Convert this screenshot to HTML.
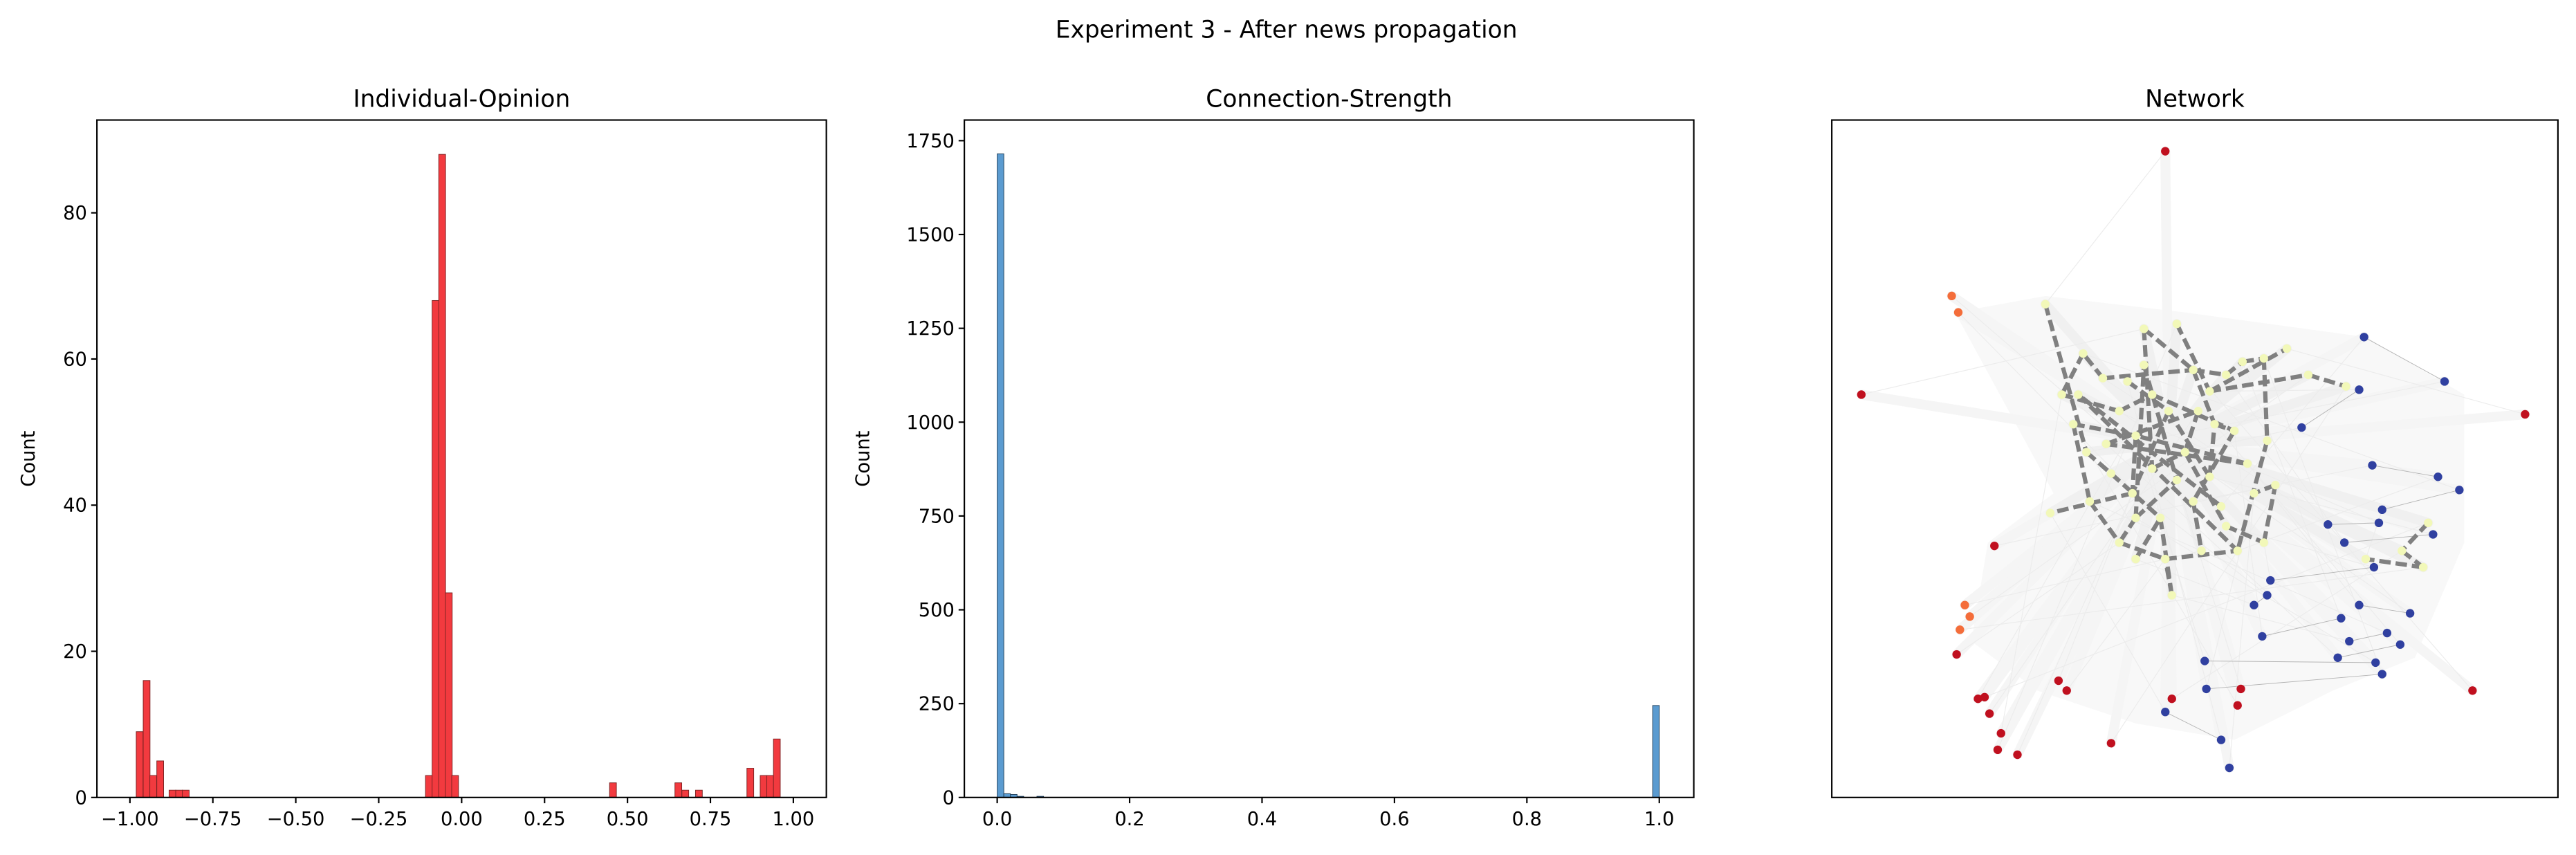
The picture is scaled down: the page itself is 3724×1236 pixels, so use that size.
<!DOCTYPE html>
<html><head><meta charset="utf-8"><style>
html,body{margin:0;padding:0;background:#fff;}
svg{display:block;font-family:"DejaVu Sans","Liberation Sans",sans-serif;}
</style></head><body>
<svg id="fig" width="3724" height="1236" viewBox="0 0 1568 520" preserveAspectRatio="none" xmlns="http://www.w3.org/2000/svg">
<rect width="1568" height="520" fill="#fff"/>
<text x="783" y="23" font-size="14.5" text-anchor="middle">Experiment 3 - After news propagation</text>
<text x="281" y="65" font-size="14.5" text-anchor="middle">Individual-Opinion</text>
<text x="809" y="65" font-size="14.5" text-anchor="middle">Connection-Strength</text>
<text x="1336" y="65" font-size="14.5" text-anchor="middle">Network</text>
<g id="p1"></g>
<g id="p2"></g>
<g id="p3"></g>
</svg>
<script>
// Panel 1 data
const opinionBinLefts = [-0.981,-0.960,-0.940,-0.919,-0.882,-0.862,-0.842,-0.109,-0.089,-0.069,-0.049,-0.030,0.446,0.643,0.664,0.705,0.860,0.900,0.920,0.940];
const opinionCounts   = [9,16,3,5,1,1,1,3,68,88,28,3,2,2,1,1,4,3,3,8];
const opinionBinWidth = 0.0205;
const opinionXTicks = [-1.00,-0.75,-0.50,-0.25,0.00,0.25,0.50,0.75,1.00];
const opinionXTickLabels = ["−1.00","−0.75","−0.50","−0.25","0.00","0.25","0.50","0.75","1.00"];
const opinionYTicks = [0,20,40,60,80];
// Panel 2 data
const strengthBinLefts = [0.00,0.01,0.02,0.03,0.06,0.99];
const strengthCounts   = [1715,10,8,3,3,245];
const strengthBinWidth = 0.01;
const strengthXTicks = [0.0,0.2,0.4,0.6,0.8,1.0];
const strengthXTickLabels = ["0.0","0.2","0.4","0.6","0.8","1.0"];
const strengthYTicks = [0,250,500,750,1000,1250,1500,1750];
// Panel 3 network nodes (layout positions)
const redNodes = [[1318,92],[1133,240],[1537,252],[1214,332],[1191,398],[1204,425],[1208,424],[1211,434],[1218,446],[1216,456],[1228,459],[1253,414],[1258,420],[1285,452],[1322,425],[1364,419],[1362,429],[1505,420]];
const orangeNodes = [[1188,180],[1192,190],[1196,368],[1199,375],[1193,383]];
const blueNodes = [[1439,205],[1488,232],[1436,237],[1401,260],[1444,283],[1484,290],[1497,298],[1450,310],[1448,318],[1417,319],[1427,330],[1481,325],[1445,345],[1382,353],[1380,362],[1372,368],[1436,368],[1467,373],[1425,376],[1377,387],[1453,385],[1430,390],[1461,392],[1423,400],[1446,403],[1342,402],[1450,410],[1343,419],[1318,433],[1352,450],[1357,467]];
const yellowNodes = [[1245,185],[1255,240],[1262,258],[1270,275],[1280,230],[1290,250],[1300,265],[1305,200],[1325,197],[1335,225],[1345,238],[1355,228],[1365,220],[1378,218],[1392,212],[1320,250],[1310,285],[1330,275],[1345,290],[1360,262],[1380,268],[1385,295],[1298,300],[1315,315],[1335,305],[1355,320],[1272,305],[1248,312],[1290,330],[1318,340],[1340,335],[1362,335],[1378,330],[1322,362],[1295,232],[1310,240],[1428,235],[1405,228],[1268,215],[1285,288],[1348,258],[1372,300],[1478,318],[1462,335],[1475,345],[1440,340],[1300,340],[1282,270],[1305,222],[1338,250],[1325,292],[1352,308],[1265,240],[1368,282],[1300,315]];
const strongEdges = [[0,3],[1,5],[2,6],[4,9],[7,16],[8,10],[9,11],[10,14],[10,37],[37,36],[11,12],[12,13],[15,18],[15,22],[17,25],[19,24],[20,31],[21,41],[22,27],[23,33],[24,30],[26,28],[28,29],[3,39],[39,23],[16,17],[5,35],[34,15],[38,1],[18,40],[40,19],[42,43],[43,44],[44,45],[6,22],[29,31],[2,26],[9,40],[13,20],[32,21],[33,29],[46,23],[25,32],[7,9],[4,38],[35,19],[47,49],[48,50],[51,52],[53,47],[54,48],[54,50],[49,17],[52,31],[54,28],[53,6]];

const NS='http://www.w3.org/2000/svg';
function mk(parent,tag,attrs){const e=document.createElementNS(NS,tag);for(const k in attrs)e.setAttribute(k,attrs[k]);parent.appendChild(e);return e;}

function histogram(g,cfg){
  const {L,R,T,B,xmin,xmax,ymax,lefts,counts,bw,xt,xtl,yt,fill,stroke,labelX,countX,prefix}=cfg;
  const sx=v=>L+(v-xmin)/(xmax-xmin)*(R-L);
  const sy=v=>B-v/ymax*(B-T);
  for(let i=0;i<lefts.length;i++){
    const r=mk(g,'rect',{x:sx(lefts[i]),y:sy(counts[i]),width:Math.max(sx(lefts[i]+bw)-sx(lefts[i]),0.5),height:B-sy(counts[i]),fill:fill,stroke:stroke,'stroke-width':0.4});
    
    
  }
  mk(g,'rect',{x:L,y:T,width:R-L,height:B-T,fill:'none',stroke:'#000','stroke-width':0.9});
  xt.forEach((v,i)=>{
    mk(g,'line',{x1:sx(v),x2:sx(v),y1:B,y2:B+3.5,stroke:'#000','stroke-width':0.9});
    const t=mk(g,'text',{x:sx(v),y:B+17,'font-size':11.5,'text-anchor':'middle'});
    t.textContent=xtl[i];
    
    
  });
  yt.forEach(v=>{
    mk(g,'line',{x1:L-3.5,x2:L,y1:sy(v),y2:sy(v),stroke:'#000','stroke-width':0.9});
    const t=mk(g,'text',{x:labelX,y:sy(v)+4,'font-size':11.5,'text-anchor':'end'});
    t.textContent=String(v);
    
    
  });
  const c=mk(g,'text',{x:countX,y:(T+B)/2,'font-size':11.5,'text-anchor':'middle',transform:`rotate(-90 ${countX} ${(T+B)/2})`});
  c.textContent='Count';
  
  
}
histogram(document.getElementById('p1'),{L:59,R:503,T:73,B:485,xmin:-1.0995,xmax:1.0995,ymax:92.7,lefts:opinionBinLefts,counts:opinionCounts,bw:opinionBinWidth,xt:opinionXTicks,xtl:opinionXTickLabels,yt:opinionYTicks,fill:'#f23a3f',stroke:'#7a2222',labelX:53,countX:21,prefix:'opinion'});
histogram(document.getElementById('p2'),{L:587,R:1031,T:73,B:485,xmin:-0.0496,xmax:1.0521,ymax:1805,lefts:strengthBinLefts,counts:strengthCounts,bw:strengthBinWidth,xt:strengthXTicks,xtl:strengthXTickLabels,yt:strengthYTicks,fill:'#5b9bd0',stroke:'#23405a',labelX:581,countX:529,prefix:'strength'});

// Network
const g3=document.getElementById('p3');
mk(g3,'rect',{x:1115,y:73,width:442,height:412,fill:'#fff'});
mk(g3,'polygon',{points:'1190,190 1245,180 1330,190 1440,205 1500,240 1500,330 1470,400 1420,420 1360,450 1300,440 1240,420 1200,390 1210,330 1250,300',fill:'#f8f8f8'});
const hub=[1320,270];
const all=[...redNodes,...orangeNodes,...blueNodes];
all.forEach(p=>{
  mk(g3,'line',{x1:p[0],y1:p[1],x2:hub[0],y2:hub[1],stroke:'#f5f5f5','stroke-width':6,'stroke-linecap':'round'});
});
yellowNodes.forEach(p=>{
  mk(g3,'line',{x1:p[0],y1:p[1],x2:hub[0],y2:hub[1],stroke:'#f0f0f0','stroke-width':6,'stroke-linecap':'round'});
});
all.forEach((p,i)=>{
  const q=yellowNodes[(i*7)%yellowNodes.length];
  mk(g3,'line',{x1:p[0],y1:p[1],x2:q[0],y2:q[1],stroke:'#ececec','stroke-width':0.5});
});
for(let i=0;i<blueNodes.length-1;i+=2){
  const a=blueNodes[i],b=blueNodes[i+1];
  mk(g3,'line',{x1:a[0],y1:a[1],x2:b[0],y2:b[1],stroke:'#b5b5b5','stroke-width':0.4});
}
strongEdges.forEach(e=>{
  const a=yellowNodes[e[0]],b=yellowNodes[e[1]];
  const l=mk(g3,'line',{x1:a[0],y1:a[1],x2:b[0],y2:b[1],stroke:'#808080','stroke-width':2.6,'stroke-dasharray':'7,3'});
  
  
});
function nodes(list,color,r,name){
  list.forEach(p=>{
    const c=mk(g3,'circle',{cx:p[0],cy:p[1],r:r,fill:color});
    
    
  });
}
nodes(yellowNodes,'#f2f8b8',2.6,'neutral-node');
nodes(redNodes,'#c0101f',2.6,'positive-node');
nodes(orangeNodes,'#f46d3a',2.6,'orange-node');
nodes(blueNodes,'#3040a0',2.6,'negative-node');
mk(g3,'rect',{x:1115,y:73,width:442,height:412,fill:'none',stroke:'#000','stroke-width':0.9});
</script>
</body></html>
